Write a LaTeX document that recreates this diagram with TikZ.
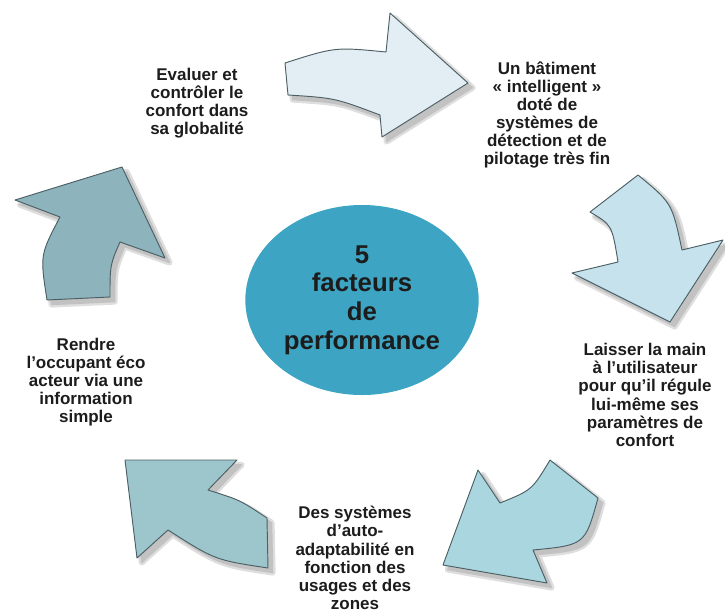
\documentclass[tikz,border=0pt]{standalone}
\usepackage{fontspec}
\setmainfont{Liberation Sans}
\usepackage{xcolor}
\definecolor{a1}{HTML}{E3EDF4}
\definecolor{a2}{HTML}{C6E2EC}
\definecolor{a3}{HTML}{A9D6DF}
\definecolor{a4}{HTML}{9CC6CC}
\definecolor{a5}{HTML}{8DB3BC}
\definecolor{e1}{HTML}{3DA5C3}
\definecolor{k1}{HTML}{4B5F64}
\definecolor{t1}{HTML}{1C1C1C}
\definecolor{s1}{HTML}{DEDEDE}
\definecolor{s2}{HTML}{C2C2C2}
\usetikzlibrary{shapes.geometric}

\tikzset{
  arrowshape/.style={draw=k1,line width=0.8pt,line join=round},
  shadowlayer/.style={xshift=4pt,yshift=-4pt,line join=round,draw=#1,fill=#1},
  label/.style={align=center,text=t1,font=\fontsize{14.5}{15.5}\selectfont\bfseries}
}

% arrow outlines
\def\arrowA{(285,-63) .. controls (335,-47) .. (386,-52) -- (390,-13)
  -- (468,-83) -- (382,-137) -- (380,-115) .. controls (335,-98) .. (288,-95) -- cycle}
\def\arrowB{(638,-175) -- (590,-212) .. controls (612,-225) .. (618,-262)
  -- (572,-273) -- (670,-322) -- (723,-240) -- (682,-250) .. controls (672,-203) .. cycle}
\def\arrowC{(478,-470) -- (500,-503) .. controls (532,-490) .. (550,-460)
  -- (598,-498) .. controls (585,-545) .. (533,-550) -- (547,-583) -- (443,-565) -- cycle}
\def\arrowD{(125,-460) -- (237,-460) -- (208,-490) .. controls (240,-500) .. (267,-518)
  -- (268,-568) .. controls (215,-560) .. (168,-530) -- (137,-558) -- cycle}
\def\arrowE{(15,-200) -- (122,-167) -- (165,-258) -- (120,-242)
  .. controls (110,-265) .. (110,-297) -- (47,-300) .. controls (40,-255) .. (60,-217) -- cycle}

\begin{document}
\begin{tikzpicture}[x=0.03cm,y=0.03cm]
  \useasboundingbox (0,0) rectangle (725,-616);

  % soft shadows
  \filldraw[shadowlayer=s1,line width=5pt] \arrowA;
  \filldraw[shadowlayer=s2,line width=1pt] \arrowA;
  \filldraw[shadowlayer=s1,line width=5pt] \arrowB;
  \filldraw[shadowlayer=s2,line width=1pt] \arrowB;
  \filldraw[shadowlayer=s1,line width=5pt] \arrowC;
  \filldraw[shadowlayer=s2,line width=1pt] \arrowC;
  \filldraw[shadowlayer=s1,line width=5pt] \arrowD;
  \filldraw[shadowlayer=s2,line width=1pt] \arrowD;
  \filldraw[shadowlayer=s1,line width=5pt] \arrowE;
  \filldraw[shadowlayer=s2,line width=1pt] \arrowE;

  \filldraw[arrowshape,fill=a1] \arrowA;
  \filldraw[arrowshape,fill=a2] \arrowB;
  \filldraw[arrowshape,fill=a3] \arrowC;
  \filldraw[arrowshape,fill=a4] \arrowD;
  \filldraw[arrowshape,fill=a5] \arrowE;

  \node[ellipse,fill=e1,minimum width=7.0cm,minimum height=5.7cm,inner sep=0pt,
    align=center,text=t1,font=\fontsize{22}{24.5}\selectfont\bfseries] (centre) at (362,-300)
    {5\\facteurs\\de\\performance};

  \node[label] (evaluer) at (197,-103) {Evaluer et\\contrôler le\\confort dans\\sa globalité};
  \node[label] (batiment) at (547,-115) {Un bâtiment\\«~intelligent~»\\doté de\\systèmes de\\détection et de\\pilotage très fin};
  \node[label] (laisser) at (645,-395) {Laisser la main\\à l'utilisateur\\pour qu'il régule\\lui-même ses\\paramètres de\\confort};
  \node[label] (systemes) at (355,-558) {Des systèmes\\d'auto-\\adaptabilité en\\fonction des\\usages et des\\zones};
  \node[label] (rendre) at (86,-382) {Rendre\\l'occupant éco\\acteur via une\\information\\simple};
\end{tikzpicture}
\end{document}
